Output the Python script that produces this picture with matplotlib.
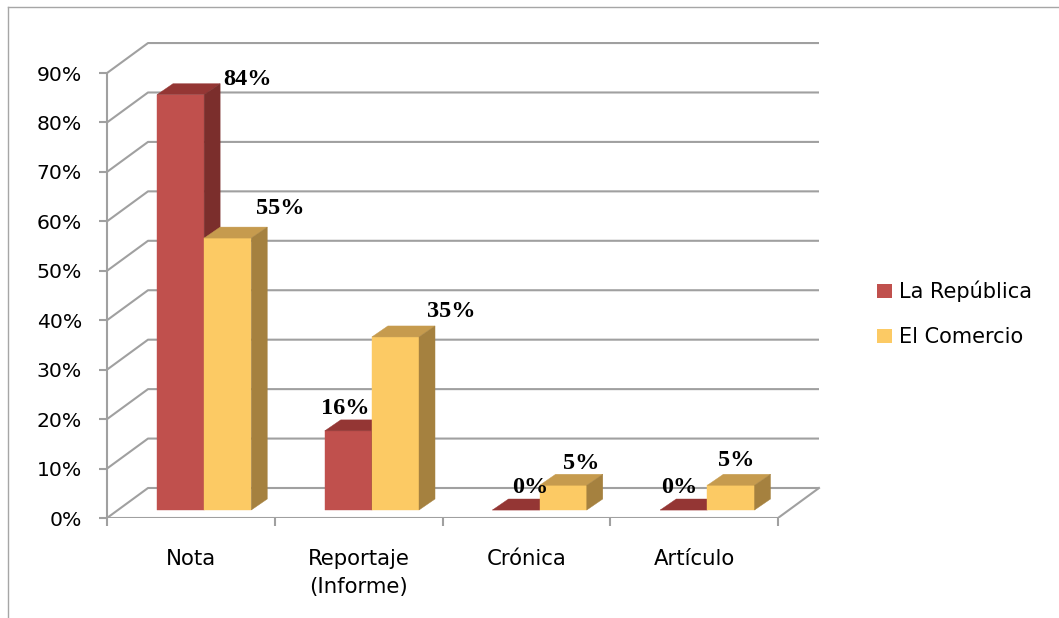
import matplotlib
matplotlib.use("Agg")
import matplotlib.pyplot as plt
from matplotlib.patches import Polygon, Patch
from matplotlib.lines import Line2D
import numpy as np

# ---- data ----
categories = ["Nota", "Reportaje\n(Informe)", "Crónica", "Artículo"]
series_names = ["La República", "El Comercio"]
la_republica = [84, 16, 0, 0]
el_comercio = [55, 35, 5, 5]
yticks = [0, 10, 20, 30, 40, 50, 60, 70, 80, 90]
ytick_labels = ["0%", "10%", "20%", "30%", "40%", "50%", "60%", "70%", "80%", "90%"]

# ---- style / layout ----
front_cols = ["#C0504D", "#FCCA64"]
top_cols = ["#943634", "#C69B4E"]
side_cols = ["#7B2E2C", "#A5813F"]
grid_col = "#A0A0A0"
label_offsets = [[(48, 11), (38, 21)], [(-2, 16), (40, 18)],
                 [(10, 16), (13, 16)], [(-3, 16), (4, 18)]]

W, H = 1059, 618
fig = plt.figure(figsize=(W / 100, H / 100), dpi=100)
px_per_cat = 167.75
px_per_pct = 4.944
ax_left_px, ax_bottom_px = 107, 518
xmin, xmax = -0.5, 4.0
ymin, ymax = 0, 100
ax = fig.add_axes([ax_left_px / W, (H - ax_bottom_px) / H,
                   (xmax - xmin) * px_per_cat / W, (ymax - ymin) * px_per_pct / H])
ax.set_xlim(xmin, xmax)
ax.set_ylim(ymin, ymax)
ax.patch.set_alpha(0)

# 3D offsets (data units)
wall_dx, wall_dy = 41 / px_per_cat, 30 / px_per_pct
bar_ox, bar_oy = 0.079, 8 / px_per_pct
bar_dx, bar_dy = 16 / px_per_cat, 11 / px_per_pct
bw = 0.281
ncat = len(categories)
xl, xr = -0.5, ncat - 0.5

# walls / gridlines
for t in yticks:
    ax.plot([xl, xl + wall_dx, xr + wall_dx], [t, t + wall_dy, t + wall_dy],
            color=grid_col, lw=1.5, solid_capstyle="butt", zorder=1)
ax.plot([xl, xr, xr + wall_dx], [0, 0, wall_dy], color=grid_col, lw=1.5, zorder=1)

# bars
x = np.arange(ncat)
for s, vals in enumerate([la_republica, el_comercio]):
    x0s = x + bar_ox - bw + s * bw
    ax.bar(x0s, vals, width=bw, bottom=bar_oy, align="edge",
           color=front_cols[s], edgecolor=front_cols[s], lw=0.3, zorder=3 + 3 * s)
    for i, v in enumerate(vals):
        x0, x1 = x0s[i], x0s[i] + bw
        b, h = bar_oy, bar_oy + v
        top = Polygon([(x0, h), (x1, h), (x1 + bar_dx, h + bar_dy), (x0 + bar_dx, h + bar_dy)],
                      closed=True, fc=top_cols[s], ec=top_cols[s], lw=0.3, zorder=4 + 3 * s)
        ax.add_patch(top)
        if v > 0:
            side = Polygon([(x1, b), (x1 + bar_dx, b + bar_dy), (x1 + bar_dx, h + bar_dy), (x1, h)],
                           closed=True, fc=side_cols[s], ec=side_cols[s], lw=0.3, zorder=4 + 3 * s)
            ax.add_patch(side)
        ax.annotate(f"{v}%", xy=(x0 + bw / 2, h), xytext=label_offsets[i][s],
                    textcoords="offset points", ha="center", va="center",
                    fontsize=17.5, fontweight="bold", family="Liberation Serif",
                    color="black", zorder=10)

# axes styling
for sp in ["top", "right", "bottom"]:
    ax.spines[sp].set_visible(False)
ax.spines["left"].set_color(grid_col)
ax.spines["left"].set_linewidth(1.5)
ax.spines["left"].set_bounds(0, 90)
ax.set_yticks(yticks)
ax.set_yticklabels(ytick_labels)
ax.tick_params(axis="y", length=6, width=1.5, color=grid_col, pad=12,
               labelsize=14.7, labelcolor="black")
ax.set_xticks(x)
ax.set_xticklabels(categories, linespacing=1.5)
ax.set_xticks(np.arange(ncat + 1) - 0.5, minor=True)
ax.tick_params(axis="x", which="major", length=0, pad=22, labelsize=15.3, labelcolor="black")
ax.tick_params(axis="x", which="minor", length=6, width=1.5, color=grid_col)

# legend
handles = [Patch(facecolor=front_cols[i], edgecolor="none") for i in range(2)]
fig.legend(handles, series_names, loc="center left", bbox_to_anchor=(858 / W, 1 - 314 / H),
           frameon=False, fontsize=15, handlelength=0.72, handleheight=0.72,
           handletextpad=0.34, labelspacing=1.2)

# outer frame
fig.add_artist(Line2D([8 / W, 8 / W], [0, 1 - 7 / H], transform=fig.transFigure,
                      color="#A6A6A6", lw=1.0))
fig.add_artist(Line2D([8 / W, 1], [1 - 7 / H, 1 - 7 / H], transform=fig.transFigure,
                      color="#A6A6A6", lw=1.0))

fig.savefig("out.png", dpi=100, facecolor="white")
